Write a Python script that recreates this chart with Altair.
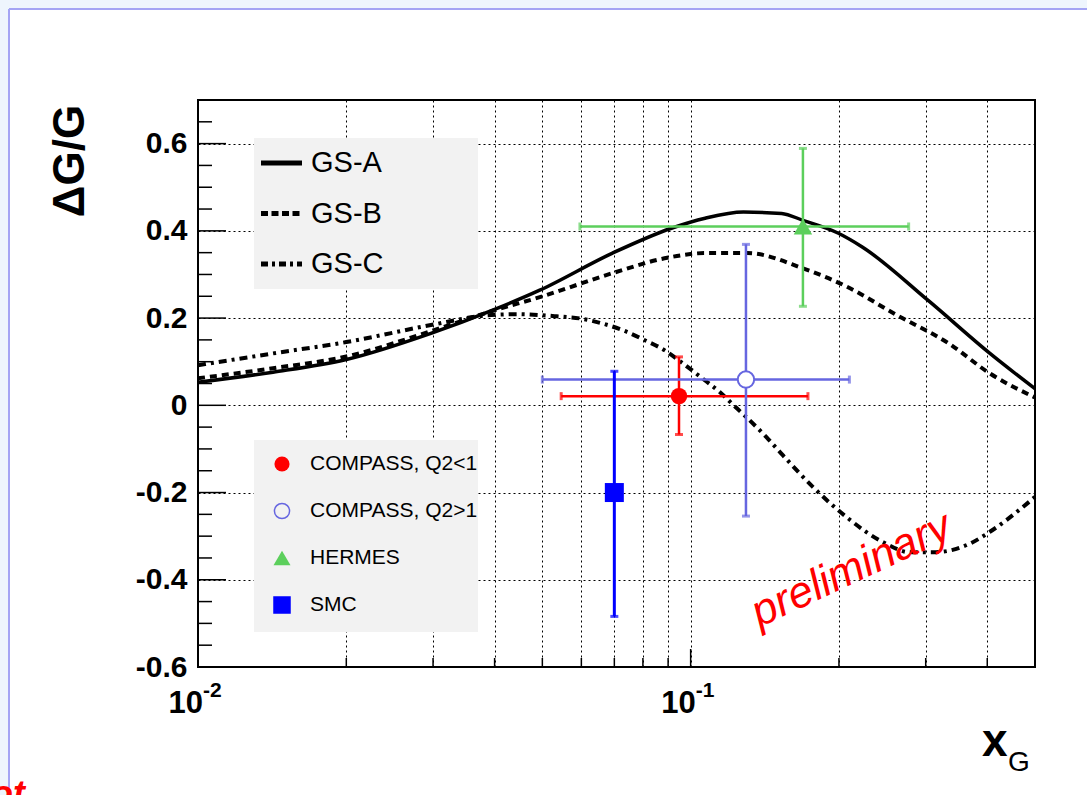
import altair as alt
import pandas as pd

# ---------------- data ----------------
gsa_x = [0.01, 0.0142, 0.02, 0.0297, 0.04, 0.0494, 0.0694, 0.0914, 0.107, 0.128, 0.153, 0.169, 0.199, 0.223, 0.303, 0.405, 0.5]
gsa_y = [0.053, 0.076, 0.105, 0.165, 0.220, 0.264, 0.349, 0.406, 0.429, 0.443, 0.440, 0.424, 0.395, 0.363, 0.241, 0.119, 0.038]

gsb_x = [0.01, 0.0142, 0.02, 0.0297, 0.04, 0.0494, 0.0694, 0.0885, 0.107, 0.1305, 0.169, 0.205, 0.262, 0.334, 0.405, 0.5]
gsb_y = [0.062, 0.085, 0.112, 0.170, 0.218, 0.248, 0.303, 0.337, 0.349, 0.349, 0.314, 0.275, 0.207, 0.142, 0.073, 0.018]

gsc_x = [0.01, 0.0142, 0.02, 0.0297, 0.0385, 0.0443, 0.0535, 0.0597, 0.0665, 0.0729, 0.0801, 0.0886,
         0.0965, 0.105, 0.1144, 0.1233, 0.1297, 0.1425, 0.154, 0.177, 0.207, 0.246, 0.279, 0.311,
         0.369, 0.405, 0.481, 0.5]
gsc_y = [0.092, 0.119, 0.145, 0.184, 0.206, 0.209, 0.204, 0.199, 0.187, 0.172, 0.151, 0.126,
         0.096, 0.064, 0.031, -0.004, -0.027, -0.073, -0.115, -0.187, -0.256, -0.314, -0.337, -0.337,
         -0.317, -0.290, -0.226, -0.210]

curve_names = ["GS-A", "GS-B", "GS-C"]

pt_names = ["COMPASS, Q2<1", "COMPASS, Q2>1", "HERMES", "SMC"]
pt_x = [0.0947, 0.1295, 0.169, 0.070]
pt_y = [0.021, 0.059, 0.410, -0.200]
pt_xlo = [0.0546, 0.050, 0.0596, None]
pt_xhi = [0.173, 0.210, 0.277, None]
pt_ylo = [-0.067, -0.254, 0.227, -0.484]
pt_yhi = [0.111, 0.369, 0.589, 0.078]

x_major = [0.01, 0.1]
x_base_label = "10"
x_exp_labels = ["-2", "-1"]
x_minor = [0.02, 0.03, 0.04, 0.05, 0.06, 0.07, 0.08, 0.09, 0.2, 0.3, 0.4]
x_grid = [0.02, 0.03, 0.04, 0.05, 0.06, 0.07, 0.08, 0.09, 0.1, 0.2, 0.3, 0.4]
y_major = [-0.6, -0.4, -0.2, 0.0, 0.2, 0.4, 0.6]
y_minor = [-0.55, -0.5, -0.45, -0.35, -0.3, -0.25, -0.15, -0.1, -0.05,
           0.05, 0.1, 0.15, 0.25, 0.3, 0.35, 0.45, 0.5, 0.55, 0.65]

# ---------------- layout / style ----------------
W, H = 837, 567
PL, PT = 198, 100
FONT = "Liberation Sans"
BORDER = "#a4a4f4"
BG = "#eef5fd"

pt_colors = ["#ff0000", "#6666e0", "#5ccf5c", "#0000ff"]
pt_shapes = ["circle", "circle", "triangle-up", "square"]
pt_filled = [True, False, True, True]
pt_sizes = [270, 270, 340, 361]

xs = alt.Scale(type="log", domain=[0.01, 0.5], nice=False)
ys = alt.Scale(domain=[-0.6, 0.7], nice=False, zero=False)

one = alt.Data(values=[{"a": 1}])


def deco_rect(x, y, x2, y2, color):
    return alt.Chart(one).mark_rect(color=color, strokeWidth=0).encode(
        x=alt.value(x), y=alt.value(y), x2=alt.value(x2), y2=alt.value(y2))


def deco_rule(x, y, x2, y2, color, width, dash=None):
    kw = dict(color=color, strokeWidth=width)
    if dash:
        kw["strokeDash"] = dash
    return alt.Chart(one).mark_rule(**kw).encode(
        x=alt.value(x), y=alt.value(y), x2=alt.value(x2), y2=alt.value(y2))


def deco_text(txt, x, y, size, **kw):
    return alt.Chart(one).mark_text(fontSize=size, font=FONT, **kw).encode(
        x=alt.value(x), y=alt.value(y), text=alt.value(txt))


layers = []

# slide background strips and border (outside plot area)
layers.append(deco_rect(-PL, -PT, 1087 - PL, 9 - PT, BG))
layers.append(deco_rect(-PL, -PT, 9 - PL, 795 - PT, BG))
layers.append(deco_rule(9 - PL, 9 - PT, 1087 - PL, 9 - PT, BORDER, 2))
layers.append(deco_rule(9 - PL, 9 - PT, 9 - PL, 795 - PT, BORDER, 2))

# curves (first layer carries the axes / grid)
curve_styles = [
    dict(strokeWidth=3.5),
    dict(strokeWidth=4, strokeDash=[7, 5]),
    dict(strokeWidth=4, strokeDash=[8, 5, 3, 5]),
]
curve_data = [(gsa_x, gsa_y), (gsb_x, gsb_y), (gsc_x, gsc_y)]
y_label_expr = ("datum.value < -0.001 ? '-' + format(-datum.value, '.1f') : "
                "(abs(datum.value) < 0.001 ? '0' : format(datum.value, '.1f'))")
for i, (cx, cy) in enumerate(curve_data):
    df = pd.DataFrame({"x": cx, "y": cy, "curve": curve_names[i]})
    if i == 0:
        xenc = alt.X("x:Q", scale=xs, axis=alt.Axis(
            values=x_grid, labels=False, ticks=False, domain=False, grid=True,
            gridDash=[2, 3], gridColor="black", gridWidth=1, gridOpacity=1, title=None))
        yenc = alt.Y("y:Q", scale=ys, axis=alt.Axis(
            values=y_major, ticks=False, domain=False, grid=True,
            gridDash=[2, 3], gridColor="black", gridWidth=1, gridOpacity=1,
            labelExpr=y_label_expr, labelFont=FONT, labelFontSize=30,
            labelFontWeight="bold", labelColor="black", labelPadding=11, title=None))
    else:
        xenc = alt.X("x:Q", scale=xs)
        yenc = alt.Y("y:Q", scale=ys)
    layers.append(alt.Chart(df).mark_line(color="black", interpolate="monotone",
                                          **curve_styles[i]).encode(x=xenc, y=yenc))

# inner ticks
layers.append(alt.Chart(pd.DataFrame({"v": y_major})).mark_rule(color="black", strokeWidth=1.5).encode(
    y=alt.Y("v:Q", scale=ys), x=alt.value(0), x2=alt.value(28)))
layers.append(alt.Chart(pd.DataFrame({"v": y_minor})).mark_rule(color="black", strokeWidth=1.5).encode(
    y=alt.Y("v:Q", scale=ys), x=alt.value(0), x2=alt.value(14)))
layers.append(alt.Chart(pd.DataFrame({"v": x_major})).mark_rule(color="black", strokeWidth=1.5).encode(
    x=alt.X("v:Q", scale=xs), y=alt.value(H), y2=alt.value(H - 18)))
layers.append(alt.Chart(pd.DataFrame({"v": x_minor})).mark_rule(color="black", strokeWidth=1.5).encode(
    x=alt.X("v:Q", scale=xs), y=alt.value(H), y2=alt.value(H - 9)))

# data points with error bars
for i, name in enumerate(pt_names):
    col = pt_colors[i]
    bw = 3 if name == "SMC" else 2.5
    row = {"x": pt_x[i], "y": pt_y[i], "ylo": pt_ylo[i], "yhi": pt_yhi[i]}
    if pt_xlo[i] is not None:
        row["xlo"] = pt_xlo[i]
        row["xhi"] = pt_xhi[i]
    df = pd.DataFrame([row])
    layers.append(alt.Chart(df).mark_rule(color=col, strokeWidth=bw).encode(
        x=alt.X("x:Q", scale=xs), y=alt.Y("ylo:Q", scale=ys), y2="yhi:Q"))
    for f in ["ylo", "yhi"]:
        layers.append(alt.Chart(df).mark_tick(color=col, orient="horizontal", size=8, thickness=3).encode(
            x=alt.X("x:Q", scale=xs), y=alt.Y(f + ":Q", scale=ys)))
    if pt_xlo[i] is not None:
        layers.append(alt.Chart(df).mark_rule(color=col, strokeWidth=2.5).encode(
            x=alt.X("xlo:Q", scale=xs), x2="xhi:Q", y=alt.Y("y:Q", scale=ys)))
        for f in ["xlo", "xhi"]:
            layers.append(alt.Chart(df).mark_tick(color=col, orient="vertical", size=8, thickness=3).encode(
                x=alt.X(f + ":Q", scale=xs), y=alt.Y("y:Q", scale=ys)))
    if pt_filled[i]:
        mk = alt.Chart(df).mark_point(shape=pt_shapes[i], filled=True, color=col, size=pt_sizes[i], opacity=1)
    else:
        mk = alt.Chart(df).mark_point(shape=pt_shapes[i], filled=False, fill="white", fillOpacity=1,
                                      stroke=col, strokeWidth=2, size=pt_sizes[i], opacity=1)
    layers.append(mk.encode(x=alt.X("x:Q", scale=xs), y=alt.Y("y:Q", scale=ys)))

# legend 1 (curves)
layers.append(deco_rect(56, 38, 280, 189, "#f2f2f2"))
leg_dash = [None, [7, 3.5], [7, 4, 3, 4]]
for i, nm in enumerate(curve_names):
    yy = 63 + 50.5 * i
    layers.append(deco_rule(63, yy, 104, yy, "black", 5, leg_dash[i]))
    layers.append(deco_text(nm, 113, yy, 29, align="left", baseline="middle", color="black"))

# legend 2 (data)
layers.append(deco_rect(56, 340, 280, 532, "#f2f2f2"))
for i, nm in enumerate(pt_names):
    yy = 364 + 47 * i
    if pt_filled[i]:
        mk = alt.Chart(one).mark_point(shape=pt_shapes[i], filled=True, color=pt_colors[i],
                                       size=pt_sizes[i] * 0.85, opacity=1)
    else:
        mk = alt.Chart(one).mark_point(shape=pt_shapes[i], filled=False, stroke=pt_colors[i],
                                       strokeWidth=1.5, size=pt_sizes[i] * 0.85, opacity=1)
    layers.append(mk.encode(x=alt.value(84), y=alt.value(yy)))
    layers.append(deco_text(nm, 112, yy, 21, align="left", baseline="middle", color="black"))

# x tick labels 10^n
xl = pd.DataFrame({"v": x_major, "t": [x_base_label] * len(x_major), "e": x_exp_labels})
layers.append(alt.Chart(xl).mark_text(align="right", baseline="alphabetic", dx=5, fontSize=31,
                                      fontWeight="bold", font=FONT, color="black").encode(
    x=alt.X("v:Q", scale=xs), y=alt.value(613), text="t:N"))
layers.append(alt.Chart(xl).mark_text(align="left", baseline="alphabetic", dx=5, fontSize=21,
                                      fontWeight="bold", font=FONT, color="black").encode(
    x=alt.X("v:Q", scale=xs), y=alt.value(597), text="e:N"))

# axis titles
layers.append(deco_text("\u0394G/G", 71 - PL, 161 - PT, 44, angle=270, align="center",
                        baseline="middle", fontWeight="bold", color="black"))
layers.append(deco_text("x", 982 - PL, 756 - PT, 46, align="left", baseline="alphabetic",
                        fontWeight="bold", color="black"))
layers.append(deco_text("G", 1008 - PL, 771 - PT, 28, align="left", baseline="alphabetic",
                        color="black"))

# annotations
layers.append(deco_text("preliminary", 857 - PL, 582 - PT, 44, angle=335, align="center",
                        baseline="alphabetic", fontStyle="italic", color="#ff0000"))
layers.append(deco_text("ot", 25 - PL, 806 - PT, 36, align="right", baseline="alphabetic",
                        fontStyle="italic", fontWeight="bold", color="#ff0000"))

chart = alt.layer(*layers).properties(
    width=W, height=H,
    autosize=alt.AutoSizeParams(type="none"),
    padding={"left": PL, "top": PT, "right": 1087 - PL - W, "bottom": 795 - PT - H},
).configure(background="white").configure_view(stroke="black", strokeWidth=2)

chart.save("out.html", embed_options={"renderer": "svg", "actions": False})
